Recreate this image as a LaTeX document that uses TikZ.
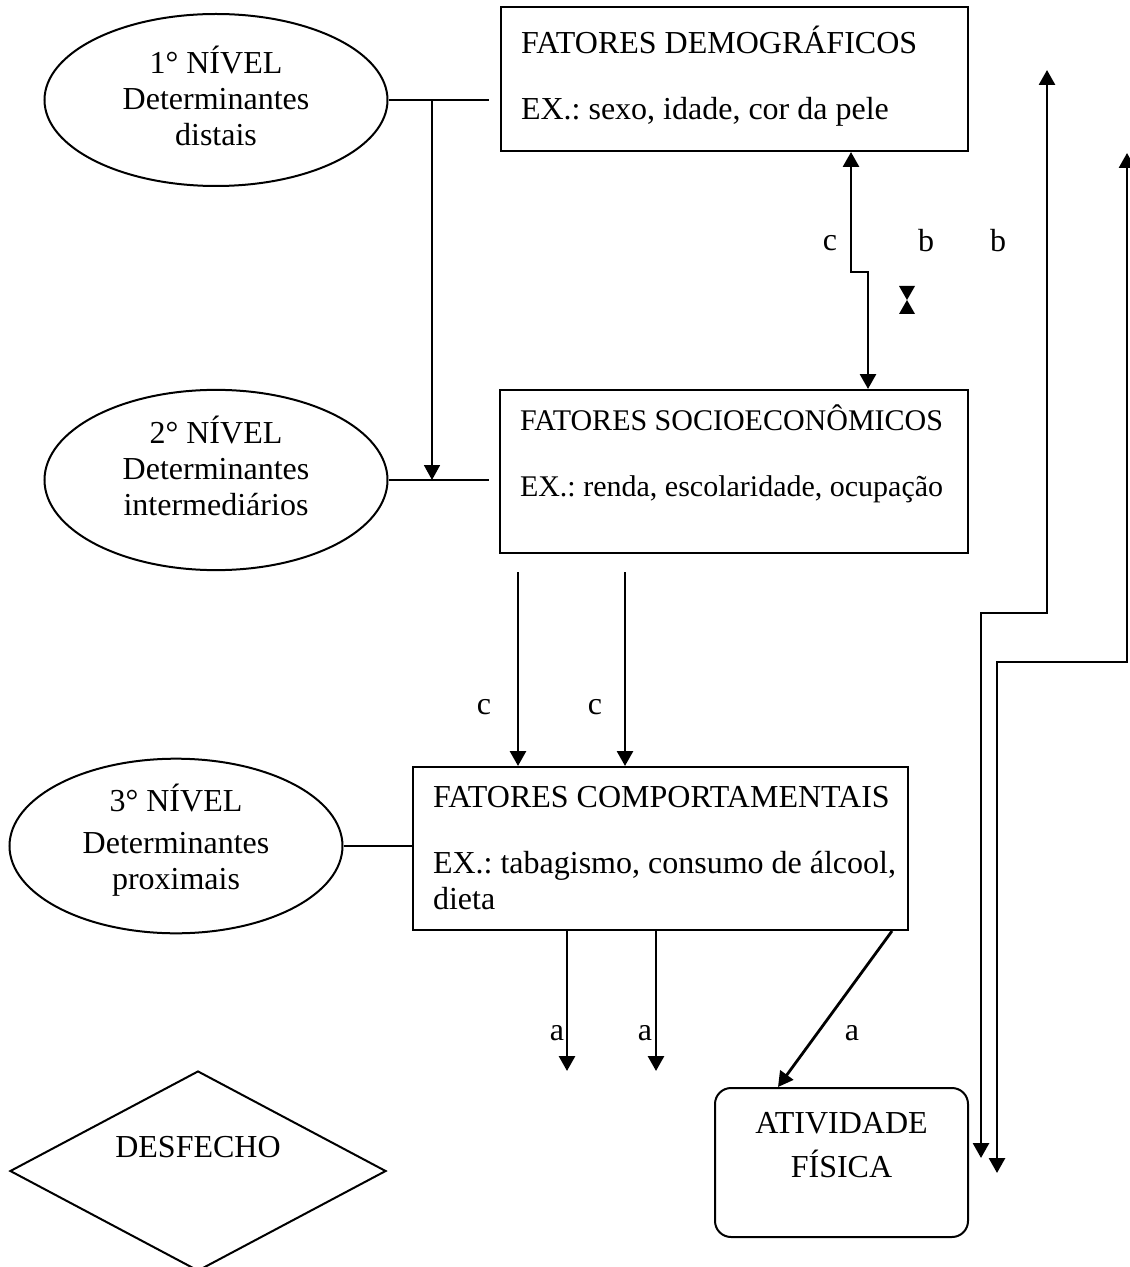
\documentclass[tikz,border=0pt]{standalone}
\usepackage{fontspec}
\setmainfont{Liberation Serif}
\usetikzlibrary{arrows.meta,shapes.geometric,calc}

\begin{document}
\begin{tikzpicture}[x=0.5pt,y=-0.5pt,>={Triangle[length=7.5pt,width=8pt]},
font=\fontsize{16}{18}\selectfont\frenchspacing,
nivel/.style={ellipse, draw, line width=1pt, inner sep=0pt, minimum width=171.5pt, minimum height=86pt, align=center},
fator/.style={rectangle, draw, line width=1pt, inner xsep=10pt, align=flush left},
seta/.style={->, line width=1.4pt},
liga/.style={line width=0.9pt}]

\useasboundingbox (0,0) rectangle (1129,1267);

% niveis
\node[nivel] (n1) at (216,100) {1° NÍVEL\\Determinantes\\distais\\[-14pt]\mbox{}};
\node[nivel, minimum height=87pt] (n2) at (216,480) {2° NÍVEL\\Determinantes\\intermediários\\[-4pt]\mbox{}};
\node[nivel, minimum width=166.5pt, minimum height=85pt] (n3) at (176,846) {3° NÍVEL\\[3pt]Determinantes\\proximais\\[-9pt]\mbox{}};
\node[diamond, draw, line width=1pt, minimum width=188pt, minimum height=100pt,
label={[name=ldesf,yshift=12pt]center:DESFECHO}] (desf) at (198,1171) {};

% fatores
\node[fator, text width=213.5pt, minimum height=72pt] (demo) at (734.5,79)
{\mbox{FATORES DEMOGRÁFICOS}\\[15pt]\mbox{EX.: sexo, idade, cor da pele}\\[-12pt]\mbox{}};
\node[fator, text width=214pt, minimum height=81.5pt, font=\fontsize{15}{18}\selectfont\frenchspacing] (socio) at (734,471.5)
{\mbox{FATORES SOCIOECONÔMICOS}\\[15pt]\mbox{EX.: renda, escolaridade, ocupação}\\[3pt]\mbox{}};
\node[fator, text width=227.5pt, minimum height=81.5pt] (comp) at (660.5,848.5)
{\mbox{FATORES COMPORTAMENTAIS}\\[15pt]\mbox{EX.: tabagismo, consumo de álcool,}\\dieta};
\node[rectangle, rounded corners=8pt, draw, line width=1pt, minimum width=126.5pt,
minimum height=74.5pt, align=center] (ativ) at (841.5,1162.5) {ATIVIDADE\\[4pt]FÍSICA\\\mbox{}};

% ligacoes
\coordinate (r) at (432,0);
\draw[liga] (n1.east) -- ++(100,0);
\draw[liga] (n2.east) -- ++(100,0);
\draw[seta, line width=0.9pt] (n1.east -| r) -- (n2.east -| r);
\draw[liga] (n3.east) -- (n3.east -| comp.west);

\draw[seta,<->] ($(demo.south west)+(351,0)$) -- ++(0,120) -- ++(17,0) coordinate (jog) -- (jog |- socio.north);
\fill (899,286) -- (915,286) -- (907,300) -- cycle (907,300) -- (899,314) -- (915,314) -- cycle;

\foreach \dx in {19,126}
  \draw[seta] ($(socio.south west)+(\dx,18)$) coordinate (c\dx) -- (c\dx |- comp.north);
\foreach \dx in {155,244}
  \draw[seta] ($(comp.south west)+(\dx,0)$) -- ++(0,140);
\draw[seta] ($(comp.south west)+(480,0)$) -- ($(ativ.north west)+(64,0)$);

\coordinate (t1) at (1047,70);
\coordinate (u1) at (981,1158);
\draw[seta,<->] (t1) -- ++(0,543) -| (u1);
\coordinate (t2) at (1127,153);
\coordinate (u2) at (997,1173);
\draw[seta,<->] (t2) -- ++(0,509) -| (u2);

% rotulos
\node (lc1) at (830,243) {c};
\node (lb1) at (926,241) {b};
\node (lb2) at (998,241) {b};
\node (lc2) at (484,707) {c};
\node (lc3) at (595,707) {c};
\node (la1) at (557,1033) {a};
\node (la2) at (645,1033) {a};
\node (la3) at (852,1033) {a};

\end{tikzpicture}
\end{document}
